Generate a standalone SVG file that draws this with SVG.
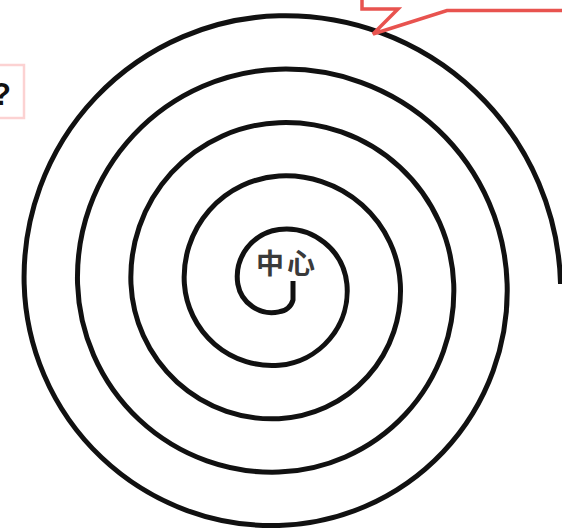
<svg xmlns="http://www.w3.org/2000/svg" width="562" height="530" viewBox="0 0 562 530">
<style>
.spiral{fill:none;stroke:#111;stroke-width:5;stroke-linecap:butt;stroke-linejoin:round}
.callout{fill:none;stroke:#e8534f;stroke-width:3.5;stroke-linejoin:miter}
.qbox{fill:#fff;stroke:#fcd2d2;stroke-width:2.5}
.center{font-family:"Noto Sans CJK SC","Noto Sans",sans-serif;font-weight:bold;font-size:28px;fill:#3a3a3a}
.q{font-family:"Liberation Sans","Noto Sans",sans-serif;font-weight:bold;font-size:31px;fill:#111}
</style>
<rect width="562" height="530" fill="#fff"/>
<g id="spiral">
<path class="spiral" d="M 293 281 L 293 300 A 16 16 0 0 1 279 311.85 A 34.5 34.5 0 0 1 237.8 284 A 47.9 47.9 0 0 1 279 229.44 A 61.2 61.2 0 0 1 346.91 284 A 74.6 74.6 0 0 1 279 365.26 A 87.9 87.9 0 0 1 184.39 284 A 101.3 101.3 0 0 1 279 176.04 A 114.6 114.6 0 0 1 400.32 284 A 128 128 0 0 1 279 418.67 A 141.3 141.3 0 0 1 130.98 284 A 154.7 154.7 0 0 1 279 122.63 A 168 168 0 0 1 453.72 284 A 181.4 181.4 0 0 1 279 472.08 A 194.8 194.8 0 0 1 77.57 284 A 208.1 208.1 0 0 1 279 69.22 A 221.5 221.5 0 0 1 507.13 284 A 234.8 234.8 0 0 1 279 525.48 A 248.2 248.2 0 0 1 24.16 284 A 261.5 261.5 0 0 1 279 15.81 A 274.9 274.9 0 0 1 560.54 284"/>
</g>
<g id="center-label">
<text class="center" x="287" y="274" text-anchor="middle" letter-spacing="3">中心</text>
</g>
<g id="question-box">
<rect class="qbox" x="-20" y="65" width="44" height="53"/>
<text class="q" x="-8" y="105">?</text>
</g>
<g id="callout">
<path class="callout" d="M 362 -5 L 362 9 L 398 9 L 373 34 L 447 10.5 L 570 10.5"/>
</g>
</svg>
